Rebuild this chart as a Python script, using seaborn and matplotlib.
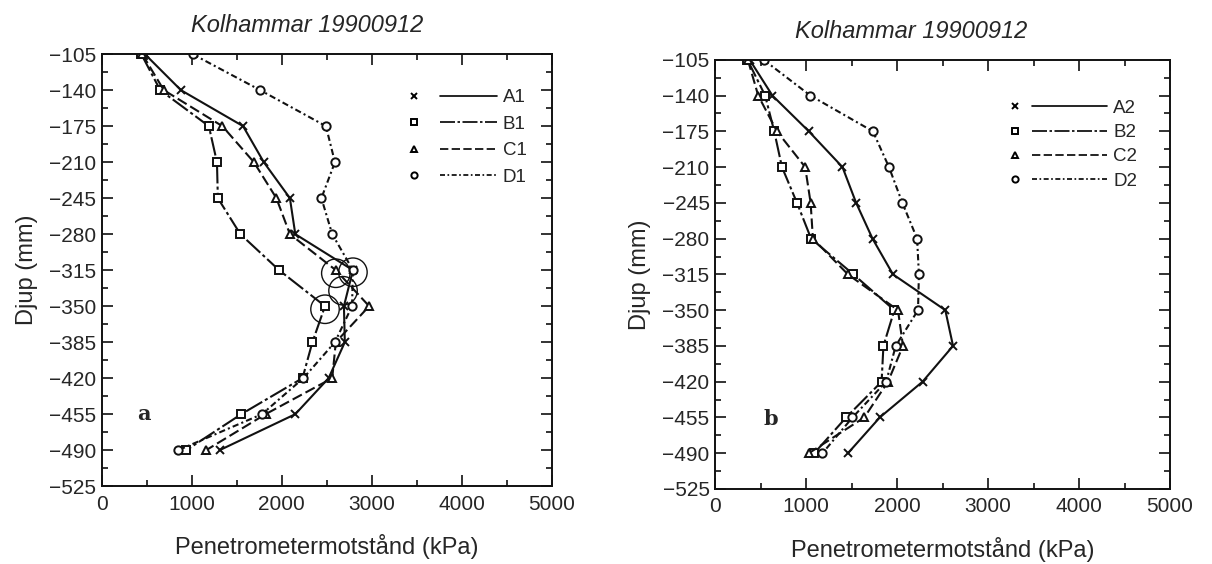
import matplotlib
matplotlib.use("Agg")
import matplotlib.pyplot as plt
from matplotlib.lines import Line2D
from matplotlib.legend_handler import HandlerBase
from matplotlib.ticker import MultipleLocator
import seaborn as sns
import pandas as pd

# Depth levels (mm) and penetrometer resistance (kPa) per plot position
depth = [-105, -140, -175, -210, -245, -280, -315, -350, -385, -420, -455, -490]

a1 = [480, 880, 1570, 1800, 2090, 2150, 2790, 2690, 2700, 2520, 2150, 1310]
b1 = [440, 650, 1190, 1280, 1290, 1540, 1970, 2480, 2340, 2230, 1550, 940]
c1 = [450, 690, 1340, 1690, 1940, 2090, 2600, 2970, 2600, 2560, 1820, 1160]
d1 = [1010, 1760, 2490, 2590, 2440, 2560, 2790, 2780, 2590, 2240, 1780, 850]

a2 = [380, 630, 1030, 1400, 1550, 1730, 1955, 2530, 2615, 2280, 1810, 1460]
b2 = [356, 550, 650, 735, 900, 1055, 1520, 1970, 1850, 1830, 1440, 1090]
c2 = [360, 474, 680, 990, 1050, 1075, 1460, 2010, 2065, 1900, 1640, 1030]
d2 = [533, 1047, 1734, 1911, 2058, 2220, 2240, 2230, 1985, 1880, 1510, 1180]

# Readings singled out with a ring in panel a
ring_kpa = [2600, 2790, 2680, 2480]
ring_depth = [-318, -317, -335, -353]

title = "Kolhammar 19900912"
xlabel = "Penetrometermotstånd (kPa)"
ylabel = "Djup (mm)"
yticks = [-105, -140, -175, -210, -245, -280, -315, -350, -385, -420, -455, -490, -525]
xticks = [0, 1000, 2000, 3000, 4000, 5000]

markers = ["x", "s", "^", "o"]
styles = ["-", (0, (9, 1.5, 1.5, 1.5)), (0, (5, 2)), (0, (3, 1.5, 1, 1.5))]

sns.set_style("ticks")
plt.rcParams["font.family"] = ["Liberation Sans", "DejaVu Sans"]
plt.rcParams["axes.linewidth"] = 1.4

fig = plt.figure(figsize=(12.12, 5.64), dpi=100)
ax1 = fig.add_axes([0.0839, 0.138, 0.3715, 0.766])
ax2 = fig.add_axes([0.590, 0.133, 0.3754, 0.761])


class MarkerThenLine(HandlerBase):
    """Legend key: the marker on its own, then a line segment to its right."""

    def __init__(self, marker, ls, mfrac, lfrac, **kw):
        super().__init__(**kw)
        self.marker = marker
        self.ls = ls
        self.mfrac = mfrac
        self.lfrac = lfrac

    def create_artists(self, legend, orig_handle, xdescent, ydescent,
                       width, height, fontsize, trans):
        yc = height / 2 - ydescent
        m = Line2D([-xdescent + self.mfrac * width], [yc], marker=self.marker,
                   linestyle="none", markersize=4.5, markerfacecolor="white",
                   markeredgecolor="black", markeredgewidth=1.4,
                   transform=trans)
        ln = Line2D([-xdescent + self.lfrac * width, -xdescent + width],
                    [yc, yc], color="black", linewidth=1.2,
                    linestyle=self.ls, transform=trans)
        return [m, ln]


def panel(ax, series, names, letter, letter_xy, legend_anchor, title_x,
          handle_len, mfrac, lfrac, spacing):
    handles = []
    handler_map = {}
    for vals, name, mk, ls in zip(series, names, markers, styles):
        df = pd.DataFrame({"kpa": vals, "depth": depth})
        sns.lineplot(data=df, x="kpa", y="depth", sort=False, estimator=None,
                     ax=ax, color="#111111", linewidth=1.5, linestyle=ls,
                     marker=mk, markersize=6, markerfacecolor="white",
                     markeredgecolor="#111111", markeredgewidth=1.4)
        h = Line2D([], [], color="black")
        handles.append(h)
        handler_map[h] = MarkerThenLine(mk, ls, mfrac, lfrac)

    ax.set_xlim(0, 5000)
    ax.set_ylim(-525, -105)
    ax.set_xticks(xticks)
    ax.set_yticks(yticks)
    ax.xaxis.set_minor_locator(MultipleLocator(500))
    ax.yaxis.set_minor_locator(MultipleLocator(17.5))
    ax.tick_params(which="both", direction="in", top=True, right=True,
                   labelsize=15, color="#111111", width=1.2)
    ax.tick_params(which="major", length=8, pad=4)
    ax.tick_params(axis="x", which="major", pad=6)
    ax.tick_params(which="minor", length=4.5)
    for s in ax.spines.values():
        s.set_color("#111111")
        s.set_visible(True)

    ax.set_xlabel(xlabel, fontsize=17, labelpad=15)
    ax.set_ylabel(ylabel, fontsize=17, labelpad=8)
    ax.set_title(title, fontsize=17, style="italic", x=title_x, pad=16)

    ax.text(letter_xy[0], letter_xy[1], letter, fontsize=15,
            family="DejaVu Serif", fontweight="bold", va="center", ha="left")

    ax.legend(handles, names, handler_map=handler_map, loc="upper left",
              bbox_to_anchor=legend_anchor, frameon=False, fontsize=13.5,
              handlelength=handle_len, handletextpad=0.3,
              labelspacing=spacing, borderpad=0, borderaxespad=0)


panel(ax1, [a1, b1, c1, d1], ["A1", "B1", "C1", "D1"], "a", (390, -455),
      (0.683, 0.919), 0.456, 4.7, 0.057, 0.35, 0.5)
panel(ax2, [a2, b2, c2, d2], ["A2", "B2", "C2", "D2"], "b", (530, -457),
      (0.648, 0.907), 0.43, 5.2, 0.05, 0.23, 0.38)

# Rings around the highlighted readings in panel a
sns.scatterplot(x=ring_kpa, y=ring_depth, ax=ax1, s=420, marker="o",
                facecolor="none", edgecolor="#111111", linewidth=1.0,
                legend=False, zorder=5)

fig.savefig("out.png", dpi=100)
